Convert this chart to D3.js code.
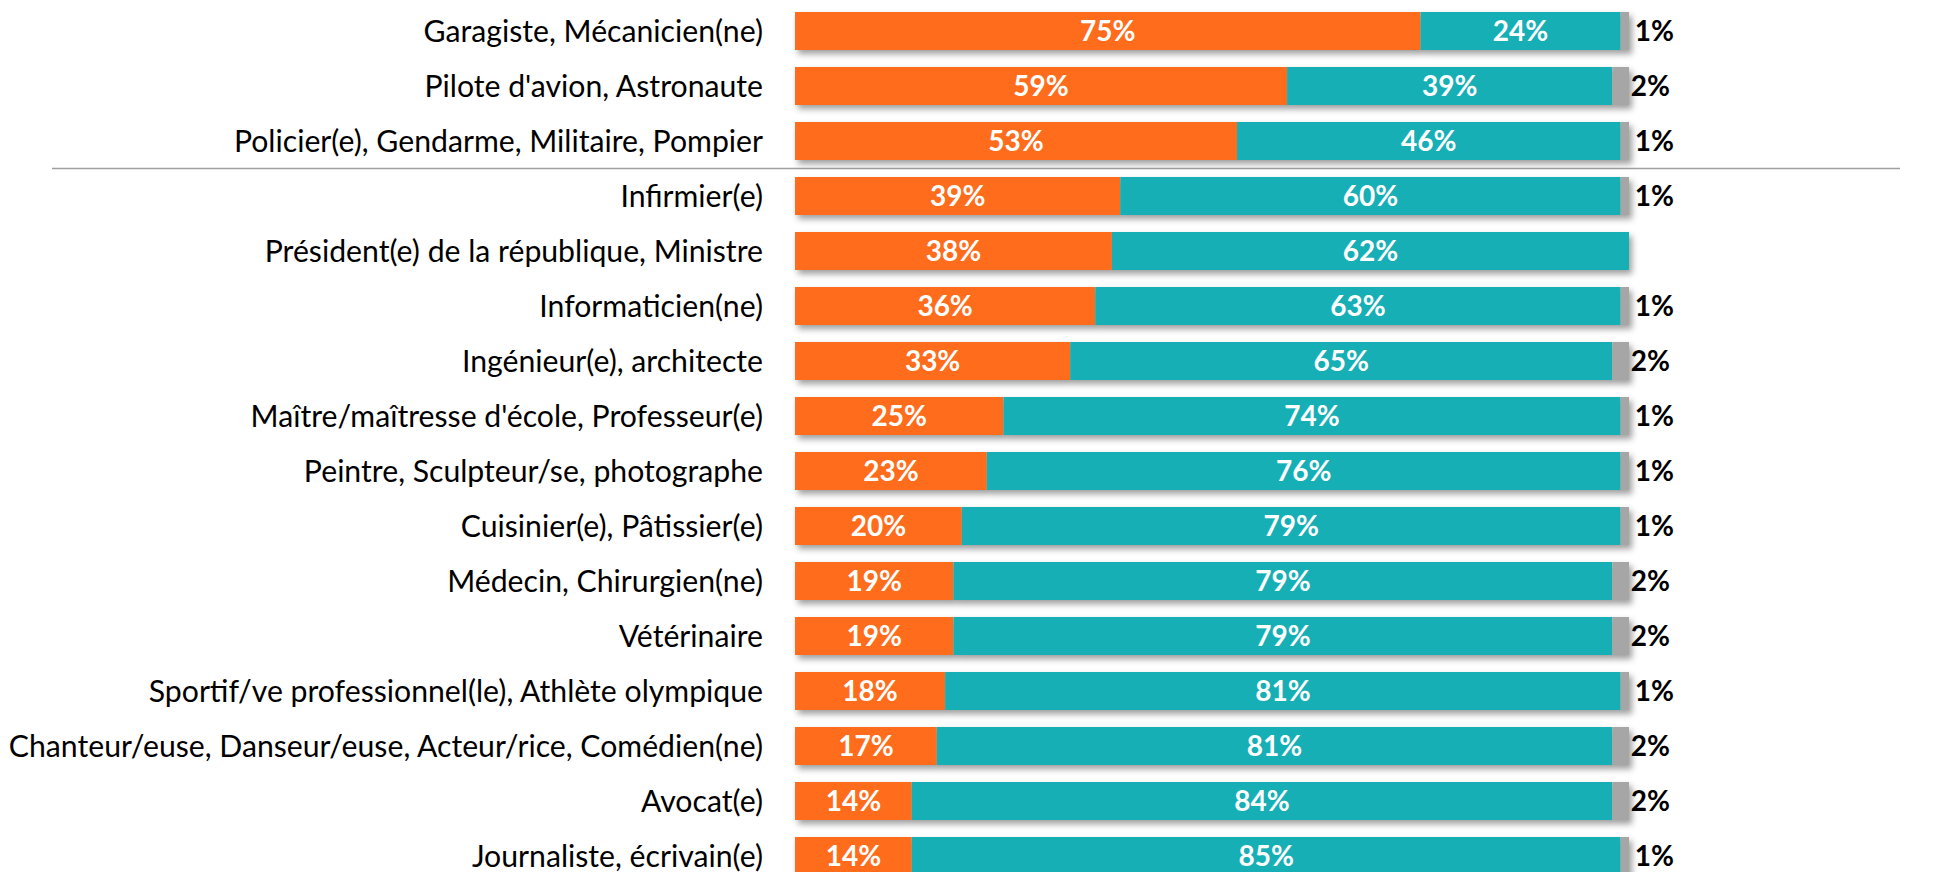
<!DOCTYPE html>
<html>
<head>
<meta charset="utf-8">
<script src="https://cdn.jsdelivr.net/npm/d3@7"></script>
<style>
  body { margin: 0; background: #fff; }
  svg { display: block; }
</style>
</head>
<body>
<svg id="chart_svg"></svg>
<script>
var metiers = ["Garagiste, Mécanicien(ne)", "Pilote d'avion, Astronaute", "Policier(e), Gendarme, Militaire, Pompier",
    "Infirmier(e)", "Président(e) de la république, Ministre", "Informaticien(ne)", "Ingénieur(e), architecte",
    "Maître/maîtresse d'école, Professeur(e)", "Peintre, Sculpteur/se, photographe", "Cuisinier(e), Pâtissier(e)",
    "Médecin, Chirurgien(ne)", "Vétérinaire", "Sportif/ve professionnel(le), Athlète olympique",
    "Chanteur/euse, Danseur/euse, Acteur/rice, Comédien(ne)", "Avocat(e)", "Journaliste, écrivain(e)"];
var garcon = [75, 59, 53, 39, 38, 36, 33, 25, 23, 20, 19, 19, 18, 17, 14, 14];
var fille = [24, 39, 46, 60, 62, 63, 65, 74, 76, 79, 79, 79, 81, 81, 84, 85];
var nsp = [1, 2, 1, 1, 0, 1, 2, 1, 1, 1, 2, 2, 1, 2, 2, 1];
var separatorAfter = 2;

const width = 1950, height = 872;
var svg = d3.select("#chart_svg").attr("width", width).attr("height", height);

var colors = ["#FF6C1E", "#14AFB6", "#A6A6A6"];

var rows = metiers.map(function (m, i) {
    return { name: m, vals: [garcon[i], fille[i], nsp[i]] };
});

const x = d3.scaleLinear().domain([0, 100]).range([795, 1629]);
const y = d3.scaleBand()
    .domain(metiers)
    .range([3.5, 883.5])
    .paddingInner(17 / 55)
    .paddingOuter(8.5 / 55);

var defs = svg.append("defs");
var f = defs.append("filter").attr("id", "shadow")
    .attr("x", "-5%").attr("y", "-30%").attr("width", "115%").attr("height", "180%");
f.append("feDropShadow")
    .attr("dx", 3).attr("dy", 4).attr("stdDeviation", 3)
    .attr("flood-color", "#000").attr("flood-opacity", 0.38);

// separator between the 3 first rows and the others
var sepY = (y(metiers[separatorAfter]) + y.bandwidth() + y(metiers[separatorAfter + 1])) / 2;
svg.append("line")
    .attr("x1", 52).attr("x2", 1900)
    .attr("y1", sepY).attr("y2", sepY)
    .attr("stroke", "#A0A0A0").attr("stroke-width", 1.5);

var stack = d3.stack().keys([0, 1, 2]).value(function (d, k) { return d.vals[k]; })(rows);

var barGroups = svg.append("g").selectAll("g.row")
    .data(rows)
    .join("g")
    .attr("class", "row")
    .attr("filter", "url(#shadow)");

barGroups.selectAll("rect")
    .data(function (d, i) { return stack.map(function (s, k) { return { k: k, v: s[i] }; }); })
    .join("rect")
    .attr("x", function (d) { return x(d.v[0]); })
    .attr("y", function (d) { return y(d.v.data.name); })
    .attr("width", function (d) { return x(d.v[1]) - x(d.v[0]); })
    .attr("height", y.bandwidth())
    .attr("fill", function (d) { return colors[d.k]; });

// category labels
svg.append("g").selectAll("text")
    .data(metiers)
    .join("text")
    .attr("x", 763)
    .attr("y", function (d) { return y(d) + y.bandwidth() / 2; })
    .attr("dy", "0.35em")
    .attr("text-anchor", "end")
    .style("font-family", "Lato, 'Open Sans', sans-serif")
    .style("font-size", "30.2px")
    .style("fill", "#000")
    .text(function (d) { return d; });

// values inside bars
var inside = [];
stack.slice(0, 2).forEach(function (s) {
    s.forEach(function (v) { inside.push(v); });
});
svg.append("g").selectAll("text")
    .data(inside)
    .join("text")
    .attr("x", function (d) { return (x(d[0]) + x(d[1])) / 2; })
    .attr("y", function (d) { return y(d.data.name) + y.bandwidth() / 2; })
    .attr("dy", "0.35em")
    .attr("text-anchor", "middle")
    .style("font-family", "Lato, 'Open Sans', sans-serif")
    .style("font-weight", "bold")
    .style("font-size", "28px")
    .style("fill", "#fff")
    .text(function (d) { return (d[1] - d[0]) + "%"; });

// "nsp" values outside
svg.append("g").selectAll("text")
    .data(stack[2].filter(function (d) { return d[1] - d[0] > 0; }))
    .join("text")
    .attr("x", function (d) { return (x(d[0]) + x(d[1])) / 2 + 10; })
    .attr("y", function (d) { return y(d.data.name) + y.bandwidth() / 2; })
    .attr("dy", "0.35em")
    .style("font-family", "Lato, 'Open Sans', sans-serif")
    .style("font-weight", "bold")
    .style("font-size", "28px")
    .style("fill", "#000")
    .text(function (d) { return (d[1] - d[0]) + "%"; });
</script>
</body>
</html>
